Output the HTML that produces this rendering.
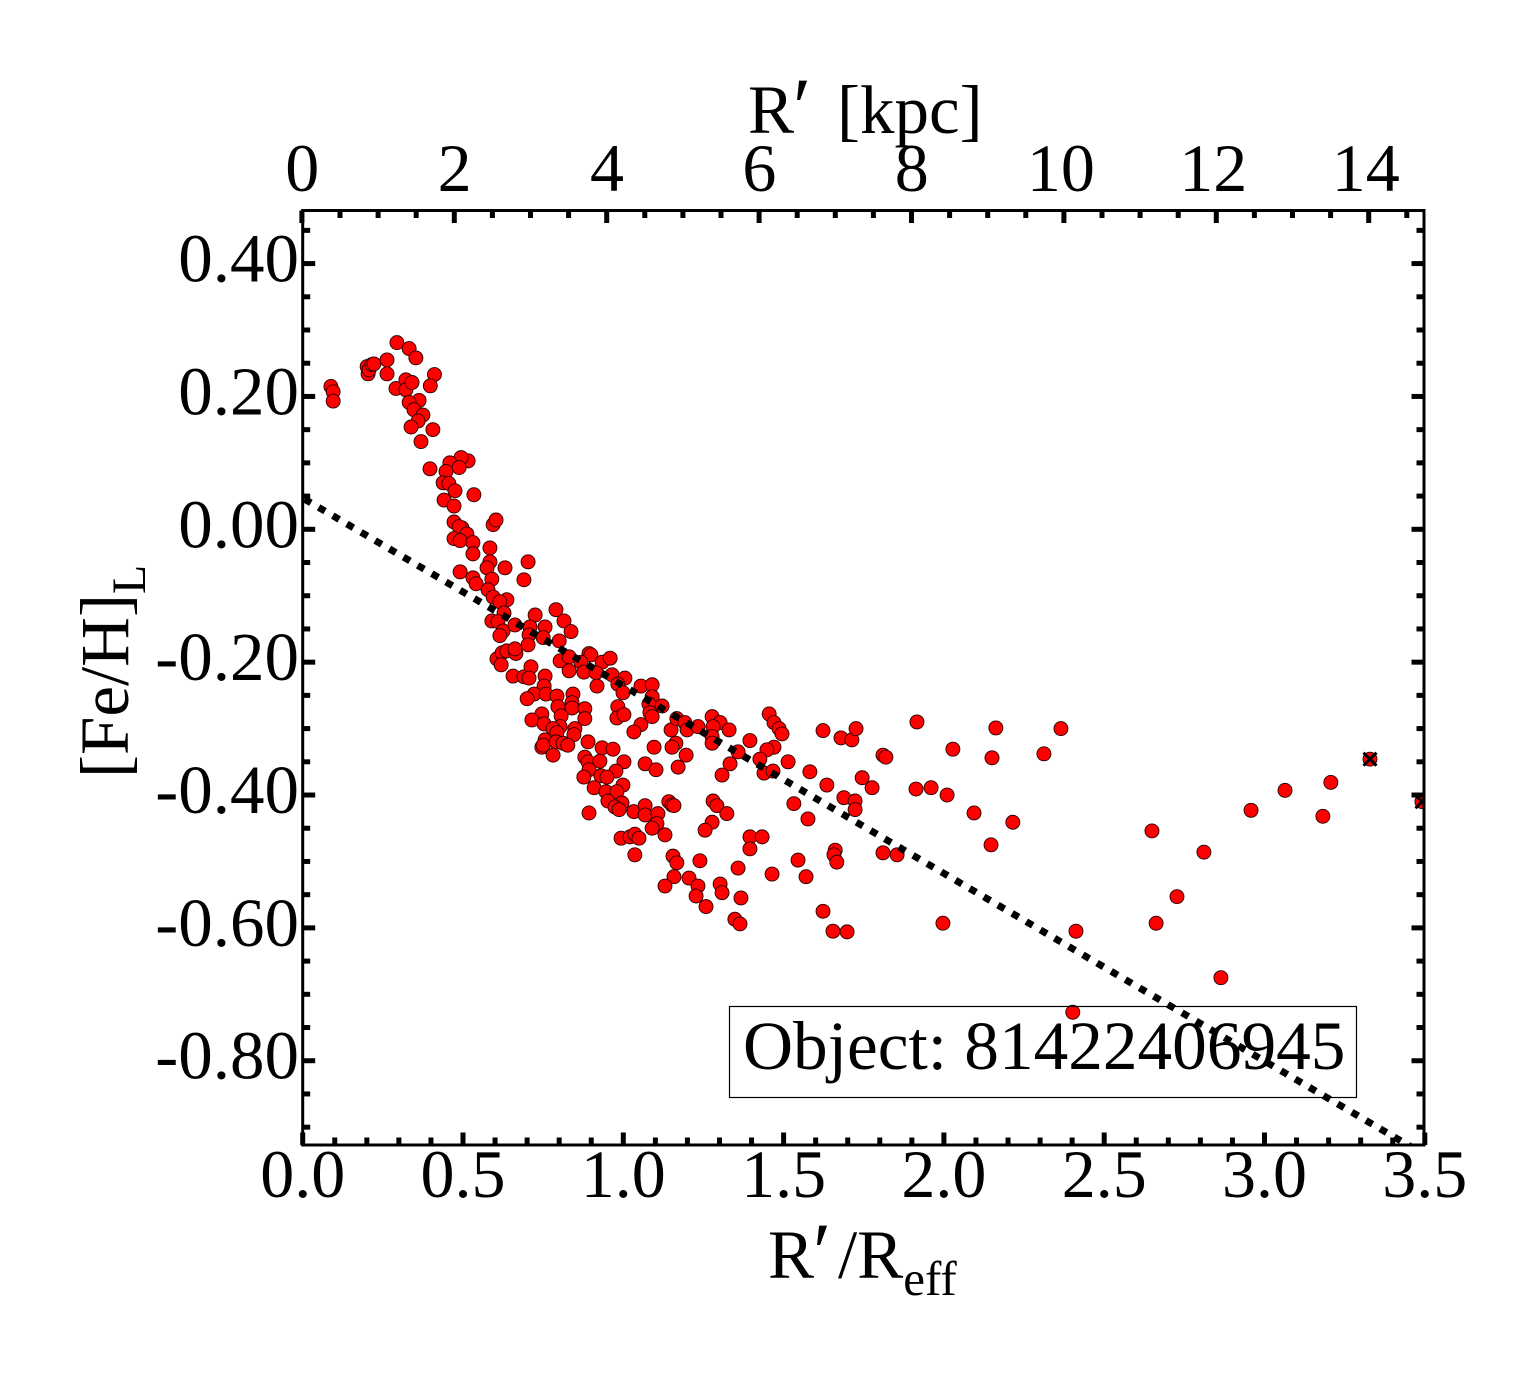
<!DOCTYPE html>
<html lang="en">
<head>
<meta charset="utf-8">
<title>[Fe/H] radial profile</title>
<style>
html,body{margin:0;padding:0;background:#fff;}
svg{display:block;}
text{font-family:"Liberation Serif",serif;fill:#000;}
</style>
</head>
<body>
<svg id="chart" xmlns="http://www.w3.org/2000/svg" width="1540" height="1375" viewBox="0 0 1540 1375">
  <defs>
    <clipPath id="plot-clip"><rect x="302.7" y="210.5" width="1121.3" height="934.5"></rect></clipPath>
  </defs>
  <rect x="0" y="0" width="1540" height="1375" fill="#fff"></rect>
  <g id="marks" clip-path="url(#plot-clip)"></g>
  <rect x="729.5" y="1006.5" width="627" height="91" fill="none" stroke="#000" stroke-width="1.2"></rect>
  <text x="743" y="1069" font-size="69.3">Object: 81422406945</text>
  <g id="fit" clip-path="url(#plot-clip)"></g>
  <g id="axes"></g>
  <text y="133" font-size="69"><tspan x="748">R</tspan><tspan x="793" font-size="83" dy="2">′</tspan><tspan x="837" dy="-2">[kpc]</tspan></text>
  <text y="1278" font-size="69"><tspan x="768">R</tspan><tspan x="813" font-size="83" dy="2">′</tspan><tspan x="838" dy="-2">/R</tspan><tspan font-size="49" dy="17">eff</tspan></text>
  <text transform="translate(128,778) rotate(-90)" font-size="69">[Fe/H]<tspan font-size="48" dy="17">L</tspan></text>
</svg>
<script>
const radiusValues = [.088,.095,.095,.201,.204,.207,.216,.222,.263,.263,.294,.332,.353,.411,.398,.291,.322,.322,.341,.363,.332,.347,.375,.360,.338,.406,.369,.397,.516,.494,.459,.488,.447,.438,.456,.475,.441,.472,.534,.472,.594,.603,.497,.488,.512,.472,.491,.531,.531,.584,.584,.575,.631,.703,.690,.491,.531,.590,.541,.578,.594,.637,.615,.628,.590,.609,.625,.615,.662,.725,.790,.815,.837,.709,.756,.706,.750,.800,.703,.803,.831,.893,.899,.868,.934,.959,.831,.877,.915,.965,1.005,.918,.983,.999,1.055,1.090,1.090,1.080,1.121,1.083,1.090,.983,.980,1.002,1.055,1.033,1.149,1.167,1.192,1.199,1.164,1.152,1.096,.606,.622,.637,.665,.662,.619,.656,.690,.712,.706,.756,.753,.722,.700,.759,.793,.843,.796,.840,.840,.880,.880,.746,.715,.753,.806,.803,.781,.793,.849,.846,.756,.746,.750,.790,.812,.827,.890,.934,.968,.781,.880,.890,.927,1.002,.977,.893,.877,.930,.949,.909,.999,.946,.980,.952,.996,.974,.987,.893,1.033,1.068,1.068,1.108,1.142,1.152,1.158,1.105,1.090,1.130,.993,1.021,1.036,1.049,1.036,1.155,1.167,1.239,1.358,1.464,1.545,1.570,1.395,1.433,1.395,1.158,1.130,1.205,1.233,1.227,1.302,1.308,1.367,1.258,1.348,1.364,1.233,1.277,1.302,1.280,1.330,1.277,1.277,1.196,1.171,1.068,1.102,1.395,1.358,1.333,1.308,1.455,1.470,1.486,1.495,1.470,1.448,1.426,1.514,1.439,1.467,1.582,1.280,1.292,1.323,1.277,1.255,1.532,1.576,1.623,1.679,1.713,1.726,1.810,1.819,1.916,2.162,2.365,2.312,2.150,2.028,1.635,1.688,1.723,1.723,1.745,1.776,1.913,1.960,2.010,2.094,2.215,2.147,1.810,1.854,1.661,1.657,1.666,1.997,1.623,1.654,1.698,2.412,2.402,2.649,2.662,2.727,2.811,2.864,2.958,3.064,3.207,3.182,3.329,3.491];
const fehValues = [.215,.207,.193,.245,.234,.240,.248,.249,.255,.234,.281,.272,.258,.233,.216,.212,.225,.210,.221,.194,.191,.180,.172,.163,.154,.150,.132,.091,.103,.108,.100,.093,.087,.070,.069,.058,.044,.035,.052,.011,.007,.014,.002,.004,-.007,-.014,-.017,-.020,-.037,-.028,-.049,-.058,-.058,-.049,-.076,-.064,-.073,-.075,-.082,-.091,-.102,-.106,-.109,-.126,-.138,-.139,-.153,-.160,-.144,-.129,-.121,-.138,-.154,-.147,-.147,-.159,-.163,-.168,-.174,-.198,-.192,-.187,-.189,-.200,-.200,-.194,-.213,-.215,-.216,-.219,-.224,-.236,-.233,-.246,-.236,-.234,-.252,-.263,-.266,-.276,-.282,-.267,-.284,-.279,-.294,-.305,-.302,-.285,-.291,-.302,-.322,-.328,-.328,-.195,-.186,-.183,-.187,-.180,-.204,-.221,-.222,-.207,-.224,-.221,-.236,-.248,-.255,-.248,-.251,-.248,-.267,-.261,-.269,-.270,-.285,-.278,-.287,-.293,-.281,-.297,-.300,-.306,-.300,-.309,-.317,-.328,-.325,-.320,-.322,-.325,-.320,-.329,-.331,-.340,-.343,-.350,-.349,-.350,-.364,-.362,-.373,-.371,-.373,-.389,-.385,-.395,-.395,-.409,-.412,-.418,-.422,-.427,-.425,-.416,-.430,-.428,-.410,-.415,-.416,-.443,-.450,-.460,-.465,-.463,-.459,-.465,-.490,-.492,-.502,-.499,-.510,-.519,-.498,-.523,-.463,-.463,-.481,-.523,-.537,-.525,-.537,-.552,-.534,-.547,-.555,-.568,-.587,-.594,-.297,-.282,-.291,-.297,-.302,-.312,-.322,-.340,-.358,-.353,-.362,-.318,-.335,-.353,-.370,-.278,-.291,-.300,-.308,-.328,-.332,-.346,-.350,-.367,-.364,-.365,-.409,-.416,-.428,-.441,-.453,-.413,-.436,-.303,-.314,-.317,-.300,-.340,-.343,-.290,-.299,-.300,-.338,-.344,-.331,-.385,-.404,-.409,-.422,-.374,-.389,-.391,-.389,-.400,-.427,-.441,-.475,-.487,-.490,-.483,-.490,-.501,-.593,-.575,-.605,-.606,-.605,-.727,-.454,-.593,-.553,-.486,-.675,-.423,-.393,-.381,-.432,-.346,-.410];
const maskedRadiusValues = [3.329,3.491];
const maskedFehValues = [-.346,-.410];
const fitIntercept = [0.047];
const fitSlope = [-0.2825];
const bottomTickValues = [0,0.5,1,1.5,2,2.5,3,3.5];
const bottomTickLabels = ["0.0","0.5","1.0","1.5","2.0","2.5","3.0","3.5"];
const topTickValues = [0,2,4,6,8,10,12,14];
const topTickLabels = ["0","2","4","6","8","10","12","14"];
const yTickValues = [0.4,0.2,0,-0.2,-0.4,-0.6,-0.8];
const yTickLabels = ["0.40","0.20","0.00","-0.20","-0.40","-0.60","-0.80"];

const NS = "http://www.w3.org/2000/svg";
const frameLeft = 302.7, frameRight = 1424, frameTop = 210.5, frameBottom = 1145;
const xMax = 3.5, pixelsPerUnit = 320.6, pixelsPerKpc = 76.2;
const xScale = v => frameLeft + pixelsPerUnit * v;
const kpcScale = v => 301.9 + v * pixelsPerKpc;
const yScale = v => 529.3 - 664.3 * v;

function make(tag, parent) {
  const el = document.createElementNS(NS, tag);
  parent.appendChild(el);
  return el;
}
function setAll(el, pairs) {
  for (const k in pairs) el.setAttribute(k, pairs[k]);
}
const marks = document.getElementById("marks");
const fit = document.getElementById("fit");
const axes = document.getElementById("axes");

radiusValues.forEach((r, i) => {
  const c = make("circle", marks);
  
  
  setAll(c, {cx: xScale(r), cy: yScale(fehValues[i]), r: 7, fill: "#ff0000", stroke: "#2a0000", "stroke-width": 0.9});
});
maskedRadiusValues.forEach((r, i) => {
  const x = xScale(r), y = yScale(maskedFehValues[i]);
  const p = make("path", marks);
  
  
  setAll(p, {d: `M${x-6.5} ${y-6.5}L${x+6.5} ${y+6.5}M${x-6.5} ${y+6.5}L${x+6.5} ${y-6.5}`, stroke: "#000", "stroke-width": 3, fill: "none"});
});

const fitLine = make("line", fit);


setAll(fitLine, {x1: xScale(0), y1: yScale(fitIntercept[0]), x2: xScale(xMax), y2: yScale(fitIntercept[0] + fitSlope[0] * xMax), stroke: "#000", "stroke-width": 7, "stroke-dasharray": "7.5 8.9", "stroke-dashoffset": -2});

const frame = make("rect", axes);


setAll(frame, {x: frameLeft, y: frameTop, width: frameRight - frameLeft, height: frameBottom - frameTop, fill: "none", stroke: "#000", "stroke-width": 3});

function tick(x1, y1, x2, y2, name) {
  const l = make("line", axes);
  
  
  setAll(l, {x1, y1, x2, y2, stroke: "#000", "stroke-width": 5});
}
function label(text, x, y, anchor, size, name) {
  const t = make("text", axes);
  
  
  setAll(t, {x, y, "text-anchor": anchor, "font-size": size});
  t.textContent = text;
}
const majorLen = 12.5, minorLen = 7.5;

for (let i = 0; i <= 35; i++) {
  const v = i / 10, x = xScale(v), len = i % 5 === 0 ? majorLen : minorLen;
  tick(x, frameBottom, x, frameBottom - len, 'bottom-x-tick');
}
for (let i = 0; i <= 29; i++) {
  const v = i / 2, x = kpcScale(v), len = i % 4 === 0 ? majorLen : minorLen;
  tick(x, frameTop, x, frameTop + len, 'top-x-tick');
}
for (let i = -18; i <= 9; i++) {
  const v = i * 0.05, y = yScale(v), len = i % 4 === 0 ? majorLen : minorLen;
  tick(frameLeft, y, frameLeft + len, y, 'left-y-tick');
  tick(frameRight, y, frameRight - len, y, 'right-y-tick');
}
bottomTickValues.forEach((v, i) => label(bottomTickLabels[i], xScale(v), 1197, "middle", 68, 'bottom-x-tick-label'));
topTickValues.forEach((v, i) => label(topTickLabels[i], kpcScale(v) + (topTickLabels[i].length > 1 ? -3 : 0.3), 191, "middle", 68, 'top-x-tick-label'));
yTickValues.forEach((v, i) => label(yTickLabels[i], 299, yScale(v) + 18, "end", 69, 'y-tick-label'));
</script>
</body>
</html>
